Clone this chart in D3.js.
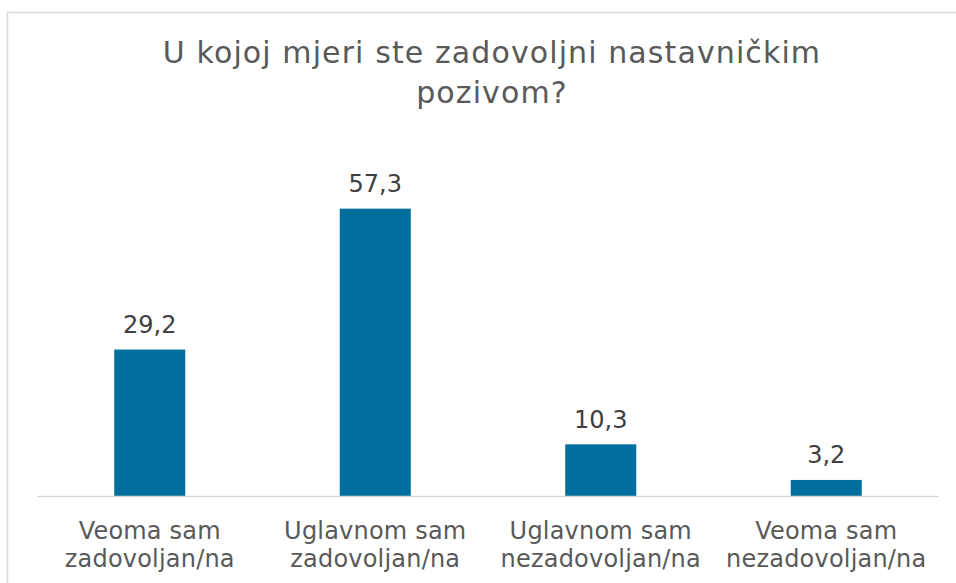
<!DOCTYPE html>
<html>
<head>
<meta charset="utf-8">
<script src="https://cdn.jsdelivr.net/npm/d3@7/dist/d3.min.js"></script>
<style>
  html, body { margin: 0; padding: 0; background: #ffffff; }
  svg { display: block; }
  text { font-family: Verdana, "DejaVu Sans", sans-serif; }
</style>
</head>
<body>
<svg id="chart" width="956" height="583"></svg>
<script>
// Survey answers: satisfaction with the teaching profession (%)
const titleLines = ["U kojoj mjeri ste zadovoljni nastavničkim", "pozivom?"];
const categories = [
  ["Veoma sam", "zadovoljan/na"],
  ["Uglavnom sam", "zadovoljan/na"],
  ["Uglavnom sam", "nezadovoljan/na"],
  ["Veoma sam", "nezadovoljan/na"]
];
const values = [29.2, 57.3, 10.3, 3.2];
const valueLabels = ["29,2", "57,3", "10,3", "3,2"];

const svg = d3.select("#chart");

// chart frame
svg.append("rect")
  .attr("x", 7.5).attr("y", 12.5)
  .attr("width", 1000).attr("height", 1000)
  .attr("fill", "#ffffff")
  .attr("stroke", "#d9d9d9")
  .attr("stroke-width", 1.5);

const plot = { left: 37, right: 939, bottom: 496 };

const x = d3.scaleBand()
  .domain(d3.range(values.length))
  .range([plot.left, plot.right])
  .paddingInner(0.685)
  .paddingOuter(0.3425);

const y = d3.scaleLinear()
  .domain([0, 60])
  .range([plot.bottom, plot.bottom - 60 * 5.015]);

// title
svg.append("text")
  .attr("text-anchor", "middle")
  .attr("fill", "#595959")
  .attr("font-size", 30)
  .attr("letter-spacing", 1.1)
  .selectAll("tspan")
  .data(titleLines)
  .join("tspan")
  .attr("x", 492)
  .attr("y", (d, i) => 63 + i * 40)
  .text(d => d);

// bars
svg.append("g")
  .selectAll("rect")
  .data(values)
  .join("rect")
  .attr("x", (d, i) => x(i))
  .attr("width", x.bandwidth())
  .attr("y", d => y(d))
  .attr("height", d => y(0) - y(d))
  .attr("fill", "#016f9e");

// category axis line
svg.append("line")
  .attr("x1", plot.left).attr("x2", plot.right)
  .attr("y1", plot.bottom + 0.5).attr("y2", plot.bottom + 0.5)
  .attr("stroke", "#d9d9d9")
  .attr("stroke-width", 1.5);

// value labels
svg.append("g")
  .selectAll("text")
  .data(values)
  .join("text")
  .attr("x", (d, i) => x(i) + x.bandwidth() / 2)
  .attr("y", d => y(d) - 16.6)
  .attr("text-anchor", "middle")
  .attr("fill", "#404040")
  .attr("font-size", 24)
  .text((d, i) => valueLabels[i]);

// category labels (two lines each)
const cat = svg.append("g")
  .selectAll("text")
  .data(categories)
  .join("text")
  .attr("text-anchor", "middle")
  .attr("fill", "#595959")
  .attr("font-size", 24)
  .attr("letter-spacing", 0.2);

cat.selectAll("tspan")
  .data((d, i) => d.map(line => ({ line, i })))
  .join("tspan")
  .attr("x", d => x(d.i) + x.bandwidth() / 2)
  .attr("y", (d, j) => 538.5 + j * 28.2)
  .text(d => d.line);
</script>
</body>
</html>
